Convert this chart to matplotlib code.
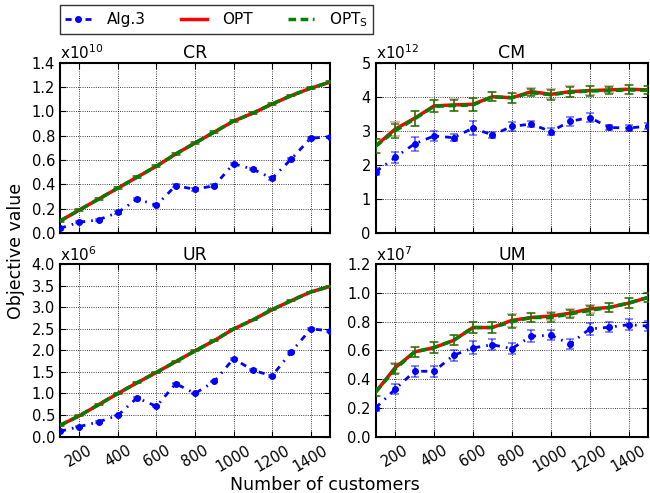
import matplotlib
matplotlib.use("Agg")
import matplotlib.pyplot as plt

# number of customers
customers = [100, 200, 300, 400, 500, 600, 700, 800, 900, 1000, 1100, 1200, 1300, 1400, 1500]

# CR (x10^10)
cr_alg = [0.04, 0.09, 0.11, 0.17, 0.28, 0.23, 0.39, 0.36, 0.39, 0.57, 0.525, 0.45, 0.61, 0.78, 0.79]
cr_alg_err = [0.01] * 15
cr_opt = [0.10, 0.19, 0.28, 0.37, 0.46, 0.55, 0.65, 0.74, 0.83, 0.92, 0.985, 1.06, 1.13, 1.19, 1.24]
cr_opt_err = [0.008] * 15
cr_opts = [0.10, 0.19, 0.28, 0.37, 0.46, 0.55, 0.65, 0.74, 0.83, 0.92, 0.985, 1.06, 1.13, 1.19, 1.24]
cr_opts_err = [0.008] * 15

# CM (x10^12)
cm_alg = [1.80, 2.22, 2.62, 2.85, 2.80, 3.08, 2.88, 3.13, 3.20, 2.98, 3.28, 3.39, 3.10, 3.08, 3.14]
cm_alg_err = [0.10, 0.17, 0.20, 0.15, 0.10, 0.20, 0.10, 0.14, 0.10, 0.10, 0.14, 0.14, 0.08, 0.08, 0.10]
cm_opt = [2.56, 3.05, 3.37, 3.73, 3.76, 3.78, 4.00, 3.97, 4.15, 4.07, 4.15, 4.18, 4.20, 4.22, 4.20]
cm_opt_err = [0.20, 0.20, 0.22, 0.18, 0.17, 0.19, 0.13, 0.15, 0.11, 0.15, 0.15, 0.14, 0.10, 0.13, 0.12]
cm_opts = [2.55, 3.00, 3.35, 3.72, 3.74, 3.76, 4.00, 3.97, 4.12, 4.06, 4.13, 4.17, 4.18, 4.20, 4.19]
cm_opts_err = [0.20, 0.20, 0.22, 0.18, 0.17, 0.19, 0.13, 0.15, 0.11, 0.15, 0.15, 0.14, 0.10, 0.13, 0.12]

# UR (x10^6)
ur_alg = [0.12, 0.23, 0.34, 0.49, 0.90, 0.70, 1.23, 1.00, 1.28, 1.81, 1.54, 1.41, 1.97, 2.50, 2.46]
ur_alg_err = [0.02] * 15
ur_opt = [0.26, 0.48, 0.74, 1.00, 1.25, 1.49, 1.74, 1.99, 2.23, 2.50, 2.71, 2.95, 3.16, 3.36, 3.49]
ur_opt_err = [0.01] * 15
ur_opts = [0.26, 0.48, 0.74, 1.00, 1.25, 1.49, 1.74, 1.99, 2.23, 2.50, 2.71, 2.95, 3.16, 3.36, 3.49]
ur_opts_err = [0.01] * 15

# UM (x10^7)
um_alg = [0.20, 0.33, 0.455, 0.455, 0.566, 0.618, 0.64, 0.613, 0.70, 0.706, 0.646, 0.75, 0.762, 0.78, 0.77]
um_alg_err = [0.02, 0.035, 0.04, 0.04, 0.04, 0.045, 0.04, 0.04, 0.04, 0.035, 0.035, 0.04, 0.035, 0.04, 0.035]
um_opt = [0.31, 0.48, 0.59, 0.62, 0.67, 0.76, 0.76, 0.81, 0.83, 0.84, 0.86, 0.89, 0.90, 0.93, 0.97]
um_opt_err = [0.03, 0.035, 0.035, 0.04, 0.035, 0.04, 0.04, 0.045, 0.03, 0.03, 0.027, 0.03, 0.03, 0.035, 0.03]
um_opts = [0.31, 0.47, 0.59, 0.62, 0.67, 0.76, 0.76, 0.80, 0.83, 0.83, 0.855, 0.88, 0.90, 0.93, 0.97]
um_opts_err = [0.03, 0.035, 0.035, 0.04, 0.035, 0.04, 0.04, 0.045, 0.03, 0.03, 0.027, 0.03, 0.03, 0.035, 0.03]

x_ticks = [200, 400, 600, 800, 1000, 1200, 1400]

panels = [
    ("CR", 10, 1.4, [0.0, 0.2, 0.4, 0.6, 0.8, 1.0, 1.2, 1.4], "%.1f",
     cr_alg, cr_alg_err, cr_opt, cr_opt_err, cr_opts, cr_opts_err),
    ("CM", 12, 5, [0, 1, 2, 3, 4, 5], "%d",
     cm_alg, cm_alg_err, cm_opt, cm_opt_err, cm_opts, cm_opts_err),
    ("UR", 6, 4.0, [0.0, 0.5, 1.0, 1.5, 2.0, 2.5, 3.0, 3.5, 4.0], "%.1f",
     ur_alg, ur_alg_err, ur_opt, ur_opt_err, ur_opts, ur_opts_err),
    ("UM", 7, 1.2, [0.0, 0.2, 0.4, 0.6, 0.8, 1.0, 1.2], "%.1f",
     um_alg, um_alg_err, um_opt, um_opt_err, um_opts, um_opts_err),
]

# axes boxes in figure fractions [left, bottom, width, height]
boxes = [
    [0.0923, 0.527, 0.4154, 0.346],
    [0.578, 0.527, 0.419, 0.346],
    [0.0923, 0.1146, 0.4154, 0.349],
    [0.578, 0.1146, 0.419, 0.349],
]

fig = plt.figure(figsize=(6.5, 4.93), dpi=100)

handles = None
for i, (box, p) in enumerate(zip(boxes, panels)):
    title, expo, ymax, yticks, fmt, alg, alg_e, opt, opt_e, opts, opts_e = p
    ax = fig.add_axes(box)
    h1 = ax.errorbar(customers, alg, yerr=alg_e, fmt="-.", color="b", marker="o", ms=4,
                     lw=2, ecolor=(0, 0, 1, 0.55), elinewidth=1.5,
                     capsize=3, capthick=1.2, zorder=3)
    h1[0].set_dashes([2.2, 2.2, 0.6, 2.2])
    h2 = ax.errorbar(customers, opt, yerr=opt_e, fmt="-", color="r", lw=2.5,
                     ecolor=(1, 0, 0, 0.4), elinewidth=1.5, capsize=3.5, capthick=1.2, zorder=4)
    h3 = ax.errorbar(customers, opts, yerr=opts_e, fmt="--", color="g", lw=2.5,
                     ecolor=(0, 0.5, 0, 0.85), elinewidth=1.2,
                     capsize=3, capthick=1.2, zorder=5)
    h3[0].set_dashes([2.2, 1.3])
    handles = [h1[0], h2[0], h3[0]]
    ax.set_xlim(100, 1500)
    ax.set_ylim(0, ymax)
    ax.set_yticks(yticks)
    ax.set_yticklabels([fmt % t for t in yticks])
    ax.set_xticks(x_ticks)
    if i >= 2:
        ax.set_xticklabels([str(t) for t in x_ticks], rotation=30, ha="center")
    else:
        ax.set_xticklabels([])
    ax.tick_params(direction="in", length=4, labelsize=10.5, top=True, right=True)
    ax.tick_params(axis="x", pad=4.5)
    ax.grid(True, color="k", linestyle=":", linewidth=0.6)
    for s in ax.spines.values():
        s.set_linewidth(1.5)
    ax.set_title(title, fontsize=12.5, pad=3)
    ax.text(0.0, 1.005, "x10$^{%d}$" % expo, transform=ax.transAxes,
            ha="left", va="bottom", fontsize=11)

fig.legend(handles, ["Alg.3", "OPT", "OPT$_\\mathrm{S}$"], loc="upper left",
           bbox_to_anchor=(0.092, 0.99), ncol=3, fontsize=11, frameon=True,
           fancybox=False, edgecolor="k", handlelength=1.7, handletextpad=1.0,
           columnspacing=2.3, borderpad=0.35, borderaxespad=0)

fig.text(0.025, 0.49, "Objective value", rotation=90, ha="center", va="center", fontsize=12.5)
fig.text(0.5, 0.016, "Number of customers", ha="center", va="center", fontsize=12.5)

fig.savefig("out.png", dpi=100)
